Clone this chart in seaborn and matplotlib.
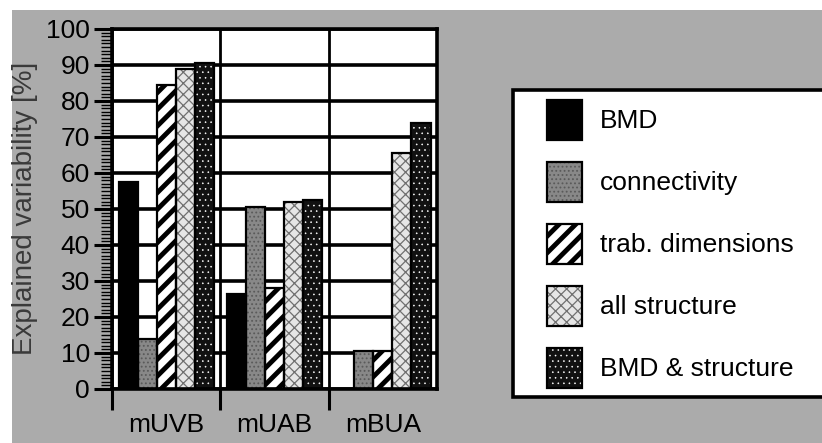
import matplotlib
matplotlib.use("Agg")
import matplotlib.pyplot as plt
from matplotlib.patches import Patch, Rectangle
from matplotlib.ticker import MultipleLocator
import seaborn as sns
import pandas as pd

# Explained variability [%] per ultrasound parameter and predictor set
methods = ["mUVB", "mUAB", "mBUA"]
predictors = ["BMD", "connectivity", "trab. dimensions", "all structure", "BMD & structure"]
bmd = [57.5, 26.5, 0.0]
connectivity = [14.0, 50.5, 10.5]
trab_dimensions = [84.5, 28.0, 10.5]
all_structure = [89.0, 52.0, 65.5]
bmd_structure = [90.5, 52.5, 74.0]
y_ticks = list(range(0, 101, 10))

series = [bmd, connectivity, trab_dimensions, all_structure, bmd_structure]
df = pd.DataFrame({
    "method": [m for _ in predictors for m in methods],
    "predictor": [p for p in predictors for _ in methods],
    "value": [v for s in series for v in s],
})

sns.set_theme(style="white")
plt.rcParams["font.family"] = ["Liberation Sans", "DejaVu Sans"]
plt.rcParams["text.color"] = "black"
plt.rcParams["xtick.color"] = "black"
plt.rcParams["ytick.color"] = "black"
plt.rcParams["hatch.linewidth"] = 1.0

# fill, hatch pattern, hatch colour, hatch line width for each predictor
styles = {
    "BMD": ("#000000", "", "#000000", 1.0),
    "connectivity": ("#888888", "....", "#5a5a5a", 0.8),
    "trab. dimensions": ("#ffffff", "//", "#000000", 3.5),
    "all structure": ("#e6e6e6", "xxx", "#707070", 0.9),
    "BMD & structure": ("#111111", "...", "#ffffff", 0.4),
}


def set_hatch_lw(patch, lw):
    if hasattr(patch, "set_hatch_linewidth"):
        patch.set_hatch_linewidth(lw)
    elif hasattr(patch, "_hatch_linewidth"):
        patch._hatch_linewidth = lw


fig = plt.figure(figsize=(8.22, 4.43), dpi=100, facecolor="white")
W, H = 822, 443

# halftone-grey page background
fig.add_artist(Rectangle((12 / W, 0), 1, 1 - 10 / H, transform=fig.transFigure,
                         facecolor="#ababab", edgecolor="none", zorder=-10))

ax = fig.add_axes([112 / W, 1 - 389 / H, (437 - 112) / W, (389 - 29) / H])
ax.set_facecolor("white")

sns.barplot(data=df, x="method", y="value", hue="predictor", order=methods,
            hue_order=predictors, width=0.88, legend=False, ax=ax,
            saturation=1, err_kws={"linewidth": 0})

for name, cont in zip(predictors, ax.containers):
    face, hatch, hcol, hlw = styles[name]
    for p in cont.patches:
        p.set_facecolor(face)
        p.set_edgecolor(hcol)
        p.set_hatch(hatch)
        p.set_linewidth(0)
        set_hatch_lw(p, hlw)
        p.set_zorder(2)
        ax.add_patch(Rectangle(p.get_xy(), p.get_width(), p.get_height(),
                               fill=False, edgecolor="black", linewidth=1.6, zorder=3))

ax.set_ylim(0, 100)
ax.set_yticks(y_ticks)
ax.yaxis.set_minor_locator(MultipleLocator(1))
ax.set_xticks([-0.5, 0.5, 1.5], minor=True)
ax.set_xlabel("")
ax.set_ylabel("")

ax.set_axisbelow(True)
ax.yaxis.grid(True, which="major", color="black", linewidth=2.6)
ax.xaxis.grid(True, which="minor", color="black", linewidth=2.0)

for s in ax.spines.values():
    s.set_color("black")
    s.set_linewidth(2.6)
    s.set_visible(True)

ax.tick_params(axis="x", which="major", length=0, pad=17, labelsize=19, labelcolor="black")
ax.tick_params(axis="x", which="minor", length=15, width=2.2, direction="out", color="black", bottom=True)
ax.tick_params(axis="y", which="major", length=13, width=2.2, direction="out", pad=3,
               labelsize=19, labelcolor="black", color="black", left=True)
ax.tick_params(axis="y", which="minor", length=8, width=1.0, direction="out", color="black", left=True)

fig.text(25 / W, 1 - 208 / H, "Explained variability [%]", rotation=90, ha="center",
         va="center", fontsize=20, color="#3a3a3a")

# legend box and entries
fig.add_artist(Rectangle((513 / W, 1 - 397 / H), 330 / W, (397 - 90) / H,
                         transform=fig.transFigure, facecolor="white",
                         edgecolor="black", linewidth=2.6, clip_on=False, zorder=1))

handles = []
for name in predictors:
    face, hatch, hcol, hlw = styles[name]
    fill = Patch(facecolor=face, edgecolor=hcol, hatch=hatch, linewidth=0)
    set_hatch_lw(fill, hlw)
    outline = Patch(fill=False, edgecolor="black", linewidth=1.6)
    handles.append((fill, outline))

leg = fig.legend(handles, predictors, loc="upper left", bbox_to_anchor=(547 / W, 1 - 100 / H),
                 frameon=False, borderpad=0, borderaxespad=0, fontsize=19,
                 handlelength=1.33, handleheight=1.96, handletextpad=0.68, labelspacing=0.83)
for t in leg.get_texts():
    t.set_color("black")

# legend swatches are copies; give them the same hatch line widths as the bars
hatch_lw = {h: lw for (_, h, _, lw) in styles.values() if h}
for r in leg.findobj(Rectangle):
    h = r.get_hatch()
    if h in hatch_lw:
        set_hatch_lw(r, hatch_lw[h])

fig.savefig("out.png", dpi=100, facecolor="white")
